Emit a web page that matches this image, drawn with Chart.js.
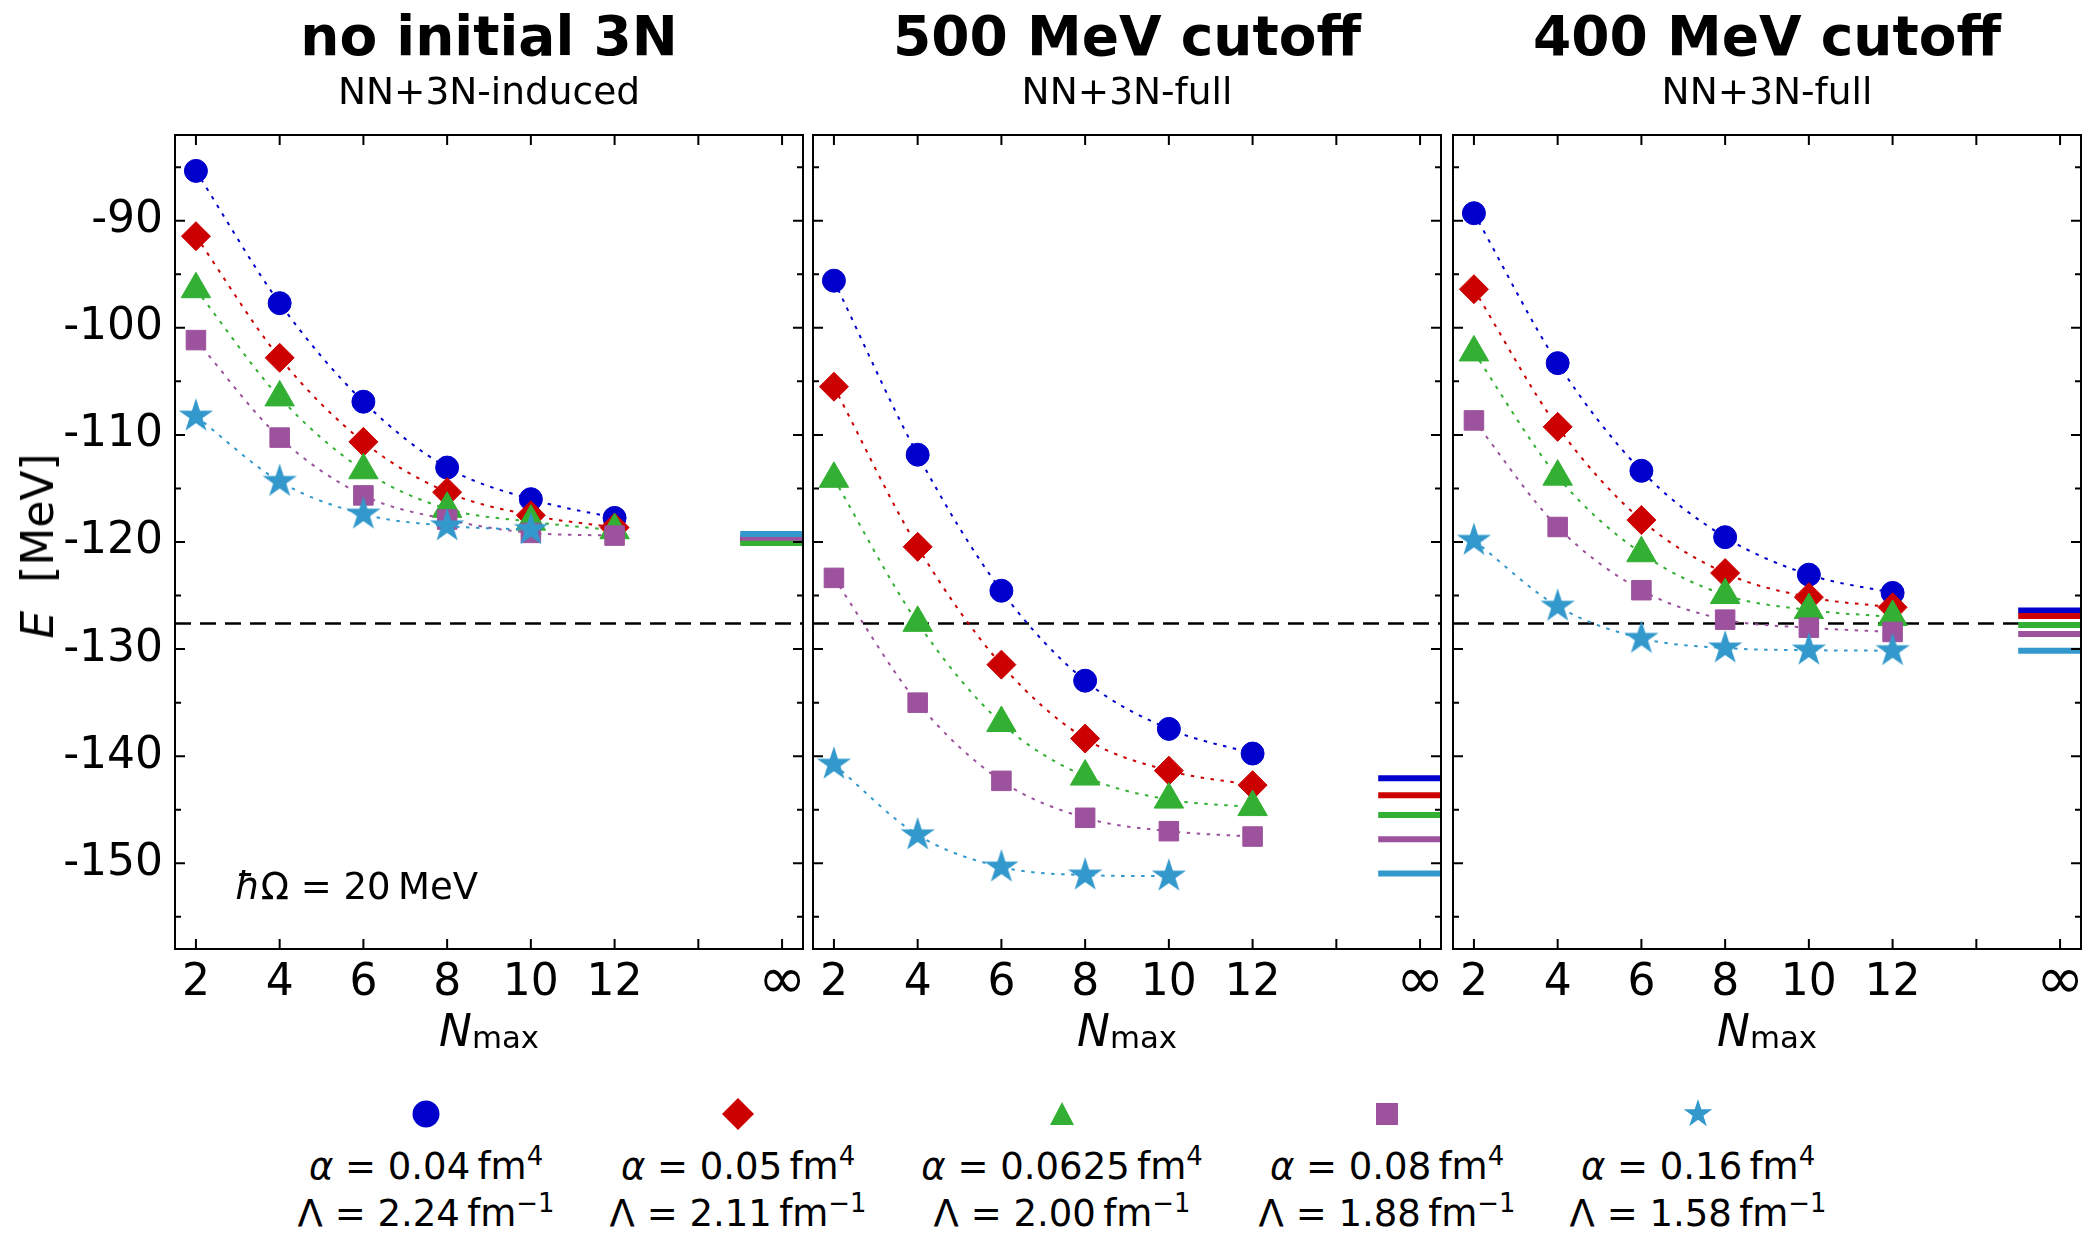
<!DOCTYPE html>
<html>
<head>
<meta charset="utf-8">
<script src="https://cdn.jsdelivr.net/npm/chart.js@4.4.1/dist/chart.umd.min.js"></script>
<style>
  body { margin: 0; background: #fff; width: 2084px; height: 1236px; position: relative; overflow: hidden; font-family: 'DejaVu Sans', sans-serif; color: #000; }
  canvas { position: absolute; top: 0; }
  .t { position: absolute; line-height: 1; white-space: nowrap; transform: translateX(-50%); }
  .it { font-style: italic; }
  .sup { font-size: 0.7em; position: relative; top: -0.55em; }
  .sub { font-size: 0.7em; position: relative; top: 0.05em; }
  svg { position: absolute; overflow: visible; }
</style>
</head>
<body>
<canvas id="p1" width="806" height="1010" style="left:0px"></canvas>
<canvas id="p2" width="634" height="1010" style="left:810px"></canvas>
<canvas id="p3" width="634" height="1010" style="left:1450px"></canvas>
<div id="texts"></div>
<script>
(() => {
    'use strict';

    // experimental binding energy (dashed line)
    const E_EXP = -127.62;
    const nmax = [2, 4, 6, 8, 10, 12];
    const xTicks = [2, 4, 6, 8, 10, 12, 14, 16];
    const yTicks = [-150, -140, -130, -120, -110, -100, -90];
    const yMinor = [-155, -150, -145, -140, -135, -130, -125, -120, -115, -110, -105, -100, -95, -90, -85];

    const titles = ['no initial 3N', '500 MeV cutoff', '400 MeV cutoff'];
    const subtitles = ['NN+3N-induced', 'NN+3N-full', 'NN+3N-full'];
    const alphas = ['0.04', '0.05', '0.0625', '0.08', '0.16'];
    const lambdas = ['2.24', '2.11', '2.00', '1.88', '1.58'];

    // no initial 3N
    const p1Alpha004 = [-85.35, -97.7, -106.9, -113.05, -116.0, -117.75];
    const p1Alpha005 = [-91.45, -102.8, -110.65, -115.35, -117.5, -118.65];
    const p1Alpha0625 = [-96.4, -106.5, -113.3, -116.9, -118.1, -118.9];
    const p1Alpha008 = [-101.15, -110.25, -115.65, -117.9, -119.15, -119.4];
    const p1Alpha016 = [-108.25, -114.35, -117.4, -118.5, -118.85];
    const p1Extrap = [-119.7, -119.8, -120.1, -119.6, -119.25];

    // 500 MeV cutoff
    const p2Alpha004 = [-95.6, -111.85, -124.55, -132.95, -137.45, -139.75];
    const p2Alpha005 = [-105.5, -120.45, -131.45, -138.35, -141.35, -142.7];
    const p2Alpha0625 = [-114.1, -127.55, -136.9, -141.9, -144.05, -144.75];
    const p2Alpha008 = [-123.35, -135.0, -142.3, -145.75, -147.0, -147.5];
    const p2Alpha016 = [-140.75, -147.35, -150.35, -151.1, -151.2];
    const p2Extrap = [-142.05, -143.65, -145.5, -147.75, -150.95];

    // 400 MeV cutoff
    const p3Alpha004 = [-89.3, -103.3, -113.35, -119.55, -123.05, -124.75];
    const p3Alpha005 = [-96.4, -109.25, -117.95, -122.9, -125.15, -126.1];
    const p3Alpha0625 = [-102.3, -113.9, -121.05, -124.95, -126.35, -127.0];
    const p3Alpha008 = [-108.65, -118.6, -124.5, -127.25, -128.0, -128.4];
    const p3Alpha016 = [-119.85, -126.0, -129.0, -129.9, -130.1, -130.15];
    const p3Extrap = [-126.4, -126.9, -127.75, -128.6, -130.15];

    const FONT = "'DejaVu Sans', sans-serif";
    const colors = ['#0000cc', '#cc0000', '#33b033', '#9c529c', '#3399cc'];

    // filled five point star for the last series
    function starImage(color, r) {
        const c = document.createElement('canvas');
        const s = Math.ceil(r * 2) + 2;
        c.width = s;
        c.height = s;
        const g = c.getContext('2d');
        g.fillStyle = color;
        g.beginPath();
        for (let k = 0; k < 10; k++) {
            const rr = k % 2 ? r * 0.382 : r;
            const a = -Math.PI / 2 + k * Math.PI / 5;
            g.lineTo(s / 2 + rr * Math.cos(a), s / 2 + rr * Math.sin(a));
        }
        g.closePath();
        g.fill();
        return c;
    }

    const pointStyles = ['circle', 'rectRot', 'triangle', 'rect', starImage(colors[4], 18)];
    const pointSizes = [11.5, 14.5, 17, 13.8, 17];

    // frame and inward ticks on all four sides
    const frameTicks = {
        id: 'frameTicks',
        afterDatasetsDraw(chart) {
            const {ctx, chartArea: a, scales: {x, y}} = chart;
            ctx.save();
            ctx.strokeStyle = '#000';
            ctx.lineWidth = 2;
            ctx.beginPath();
            xTicks.forEach(v => {
                const px = x.getPixelForValue(v);
                ctx.moveTo(px, a.bottom);
                ctx.lineTo(px, a.bottom - 10);
                ctx.moveTo(px, a.top);
                ctx.lineTo(px, a.top + 10);
            });
            yMinor.forEach(v => {
                const py = y.getPixelForValue(v);
                const len = yTicks.includes(v) ? 10 : 6;
                ctx.moveTo(a.left, py);
                ctx.lineTo(a.left + len, py);
                ctx.moveTo(a.right, py);
                ctx.lineTo(a.right - len, py);
            });
            ctx.stroke();
            ctx.strokeRect(a.left, a.top, a.right - a.left, a.bottom - a.top);
            ctx.restore();
        }
    };

    function makePanel(id, series, limits, showY) {
        const datasets = [{
            data: [{x: 1.5, y: E_EXP}, {x: 16.5, y: E_EXP}],
            borderColor: '#000',
            borderWidth: 2.5,
            borderDash: [16, 9],
            pointRadius: 0,
            order: 30
        }];
        limits.forEach((v, i) => datasets.push({
            data: [{x: 15, y: v}, {x: 16.5, y: v}],
            borderColor: colors[i],
            borderWidth: 6,
            pointRadius: 0,
            order: 25 - i
        }));
        series.forEach((vals, i) => datasets.push({
            data: vals.map((v, k) => ({x: nmax[k], y: v})),
            borderColor: colors[i],
            backgroundColor: colors[i],
            borderWidth: 2,
            borderDash: [3.5, 6.5],
            cubicInterpolationMode: 'monotone',
            pointStyle: pointStyles[i],
            pointRadius: pointSizes[i],
            pointBorderWidth: 1,
            order: 10 - i
        }));

        return new Chart(document.getElementById(id), {
            type: 'line',
            data: { datasets },
            options: {
                responsive: false,
                animation: false,
                layout: {
                    autoPadding: false,
                    padding: { left: showY ? 0 : 3, right: 3, top: 135, bottom: 0 }
                },
                scales: {
                    x: {
                        type: 'linear',
                        min: 1.5,
                        max: 16.5,
                        afterBuildTicks: s => { s.ticks = xTicks.map(v => ({ value: v })); },
                        afterFit: s => {
                            s.height = 61;
                            s.paddingLeft = 0;
                            s.paddingRight = 0;
                        },
                        grid: { display: false, drawTicks: false },
                        border: { display: false },
                        ticks: {
                            color: '#000',
                            // the infinity sign is drawn bigger, same vertical middle
                            font: ctx => (ctx.tick && ctx.tick.value === 16)
                                ? { family: FONT, size: 58, lineHeight: 0.91 }
                                : { family: FONT, size: 44 },
                            padding: 8,
                            maxRotation: 0,
                            autoSkip: false,
                            callback: v => v === 16 ? '∞' : (v === 14 ? '' : String(v))
                        }
                    },
                    y: {
                        display: showY,
                        min: -158,
                        max: -82,
                        afterBuildTicks: s => { s.ticks = yTicks.map(v => ({ value: v })); },
                        afterFit: s => {
                            s.width = showY ? 175 : 0;
                            s.paddingTop = 0;
                            s.paddingBottom = 0;
                        },
                        grid: { display: false, drawTicks: false },
                        border: { display: false },
                        ticks: {
                            color: '#000',
                            font: { family: FONT, size: 44 },
                            padding: 12,
                            autoSkip: false,
                            callback: v => String(v)
                        }
                    }
                },
                plugins: {
                    legend: { display: false },
                    tooltip: { enabled: false }
                }
            },
            plugins: [frameTicks]
        });
    }

    makePanel('p1', [p1Alpha004, p1Alpha005, p1Alpha0625, p1Alpha008, p1Alpha016], p1Extrap, true);
    makePanel('p2', [p2Alpha004, p2Alpha005, p2Alpha0625, p2Alpha008, p2Alpha016], p2Extrap, false);
    makePanel('p3', [p3Alpha004, p3Alpha005, p3Alpha0625, p3Alpha008, p3Alpha016], p3Extrap, false);

    // texts around the panels
    const panelCenters = [489, 1127, 1767];
    let html = '';
    titles.forEach((t, i) => {
        html += `<div class="t" style="left:${panelCenters[i]}px;top:9px;font-size:55px;font-weight:bold">${t}</div>`;
        html += `<div class="t" style="left:${panelCenters[i]}px;top:73px;font-size:37.5px">${subtitles[i]}</div>`;
        html += `<div class="t" style="left:${panelCenters[i]}px;top:1009px;font-size:44px"><span class="it">N</span><span class="sub">max</span></div>`;
    });
    html += `<div style="position:absolute;left:38px;top:546px;transform:translate(-50%,-50%) rotate(-90deg);font-size:44px;line-height:1;white-space:nowrap"><span class="it">E</span>&nbsp;&nbsp;[MeV]</div>`;
    html += `<div style="position:absolute;left:235px;top:868px;font-size:37px;line-height:1;white-space:nowrap"><span class="it">ħ</span>Ω = 20&thinsp;MeV</div>`;

    // legend
    const legendX = [426, 738, 1062, 1387, 1698];
    const markerSvg = [
        c => `<circle cx="0" cy="0" r="13.5" fill="${c}"/>`,
        c => `<polygon points="0,-16 16,0 0,16 -16,0" fill="${c}"/>`,
        c => `<polygon points="0,-12 -12,11 12,11" fill="${c}"/>`,
        c => `<rect x="-11" y="-11" width="22" height="22" fill="${c}"/>`,
        c => {
            let pts = [];
            for (let k = 0; k < 10; k++) {
                const rr = k % 2 ? 15 * 0.382 : 15;
                const a = -Math.PI / 2 + k * Math.PI / 5;
                pts.push((rr * Math.cos(a)).toFixed(2) + ',' + (rr * Math.sin(a)).toFixed(2));
            }
            return `<polygon points="${pts.join(' ')}" fill="${c}"/>`;
        }
    ];
    alphas.forEach((a, i) => {
        html += `<svg width="1" height="1" style="left:${legendX[i]}px;top:1114px">${markerSvg[i](colors[i])}</svg>`;
        html += `<div class="t" style="left:${legendX[i]}px;top:1148px;font-size:37px"><span class="it">α</span> = ${a}&thinsp;fm<span class="sup">4</span></div>`;
        html += `<div class="t" style="left:${legendX[i]}px;top:1195px;font-size:37px">Λ = ${lambdas[i]}&thinsp;fm<span class="sup">−1</span></div>`;
    });
    document.getElementById('texts').innerHTML = html;
})();
</script>
</body>
</html>
